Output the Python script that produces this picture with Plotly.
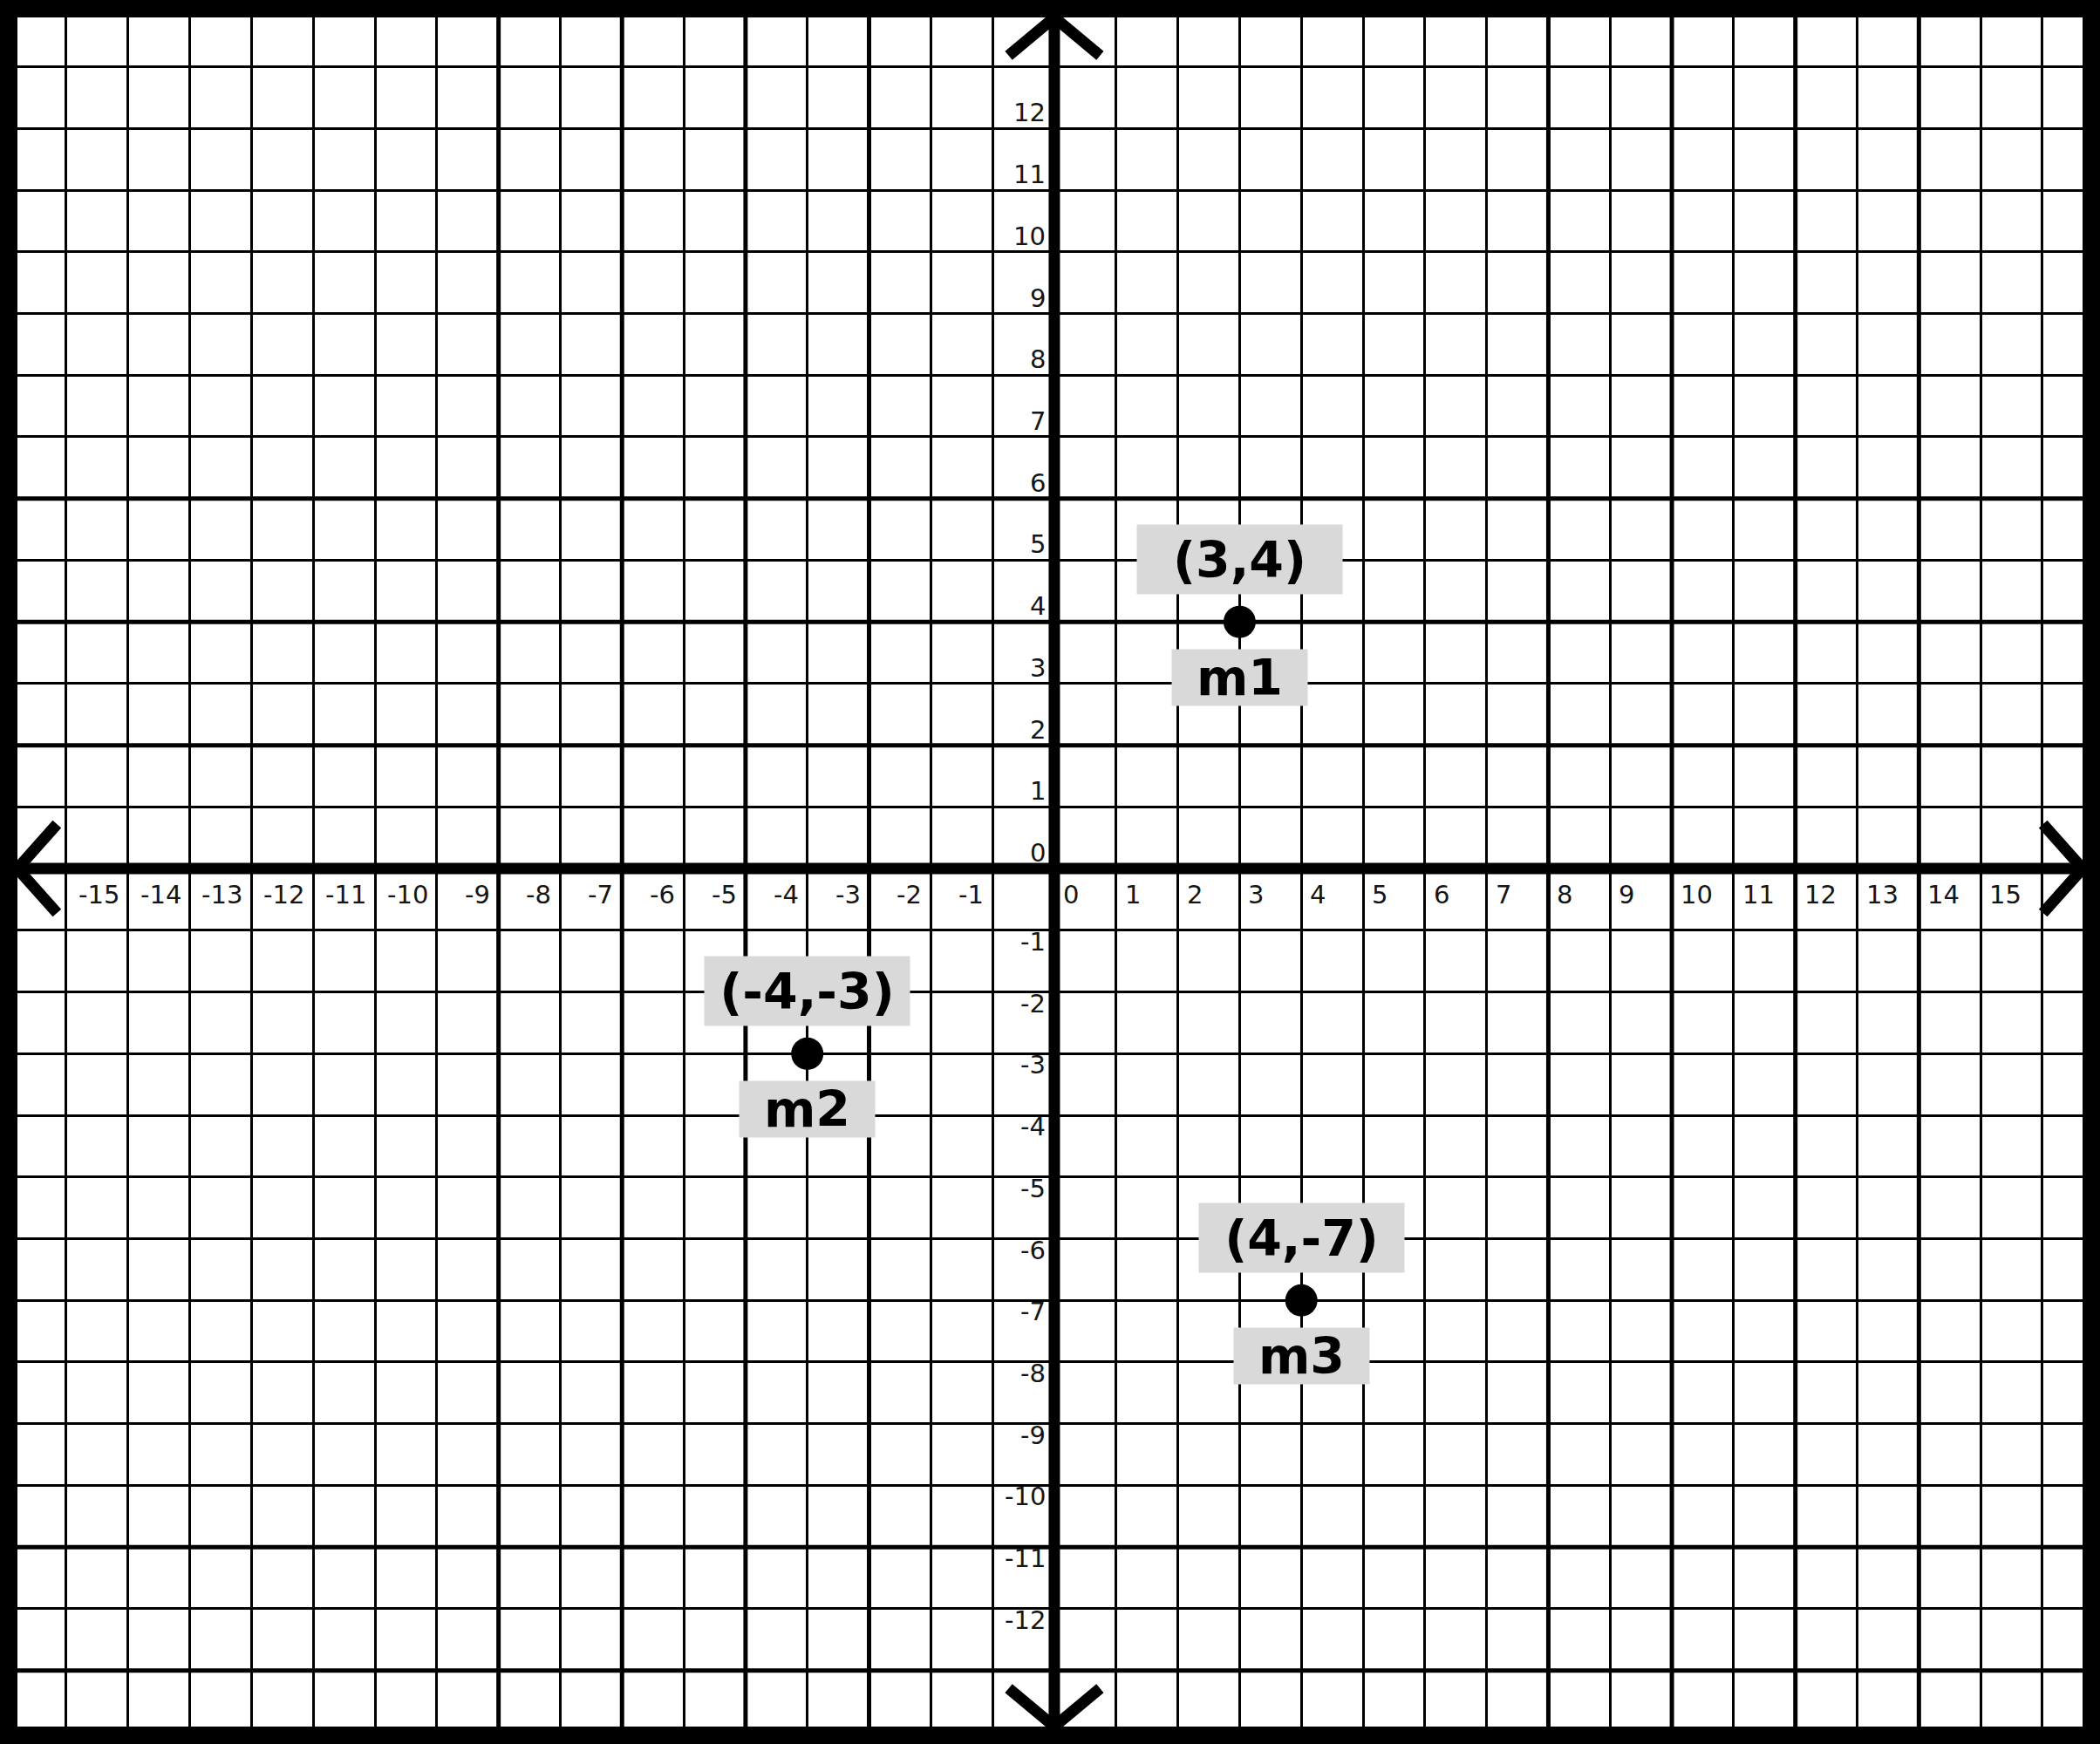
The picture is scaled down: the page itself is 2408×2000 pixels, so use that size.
import plotly.graph_objects as go

# ---------------- data ----------------
point_names = ["m1", "m2", "m3"]
point_x = [3, -4, 4]
point_y = [4, -3, -7]

x_tick_values = list(range(-15, 16))
y_tick_values = list(range(-12, 13))
x_tick_labels = [str(v) for v in x_tick_values]
y_tick_labels = [str(v) for v in y_tick_values]

# ---------------- style ----------------
X_RANGE = [-16.79, 16.65]
Y_RANGE = [-13.91, 13.80]
GRID_W = 2.5
THICK_W = 5
AXIS_W = 13
THICK_X = [-9, -7, -5, -3, 8, 10, 12, 14]
THICK_Y = [6, 4, 2, -11, -13]
TICK_FONT = dict(family="DejaVu Sans", size=29, color="#151515")
LABEL_FONT = dict(family="DejaVu Sans", size=57, color="black", weight="bold")
BOX_BG = "#d9d9d9"

fig = go.Figure()

fig.add_trace(go.Scatter(
    x=point_x, y=point_y, mode="markers",
    marker=dict(size=37, color="black", line=dict(width=0)),
    hoverinfo="skip", showlegend=False,
))

shapes = []
for xv in THICK_X:
    shapes.append(dict(type="line", xref="x", yref="paper", x0=xv, x1=xv, y0=0, y1=1,
                       line=dict(color="black", width=THICK_W), layer="between"))
for yv in THICK_Y:
    shapes.append(dict(type="line", xref="paper", yref="y", x0=0, x1=1, y0=yv, y1=yv,
                       line=dict(color="black", width=THICK_W), layer="between"))
shapes.append(dict(type="line", xref="x", yref="paper", x0=0, x1=0, y0=0, y1=1,
                   line=dict(color="black", width=AXIS_W), layer="above"))
shapes.append(dict(type="line", xref="paper", yref="y", x0=0, x1=1, y0=0, y1=0,
                   line=dict(color="black", width=AXIS_W), layer="above"))

ax_dx, ax_dy = 0.74, 0.62
bx_dx, bx_dy = 0.64, 0.72
xmin, xmax = X_RANGE
ymin, ymax = Y_RANGE
chevrons = [
    f"M {-ax_dx} {ymax - ax_dy} L 0 {ymax} L {ax_dx} {ymax - ax_dy}",
    f"M {-ax_dx} {ymin + ax_dy} L 0 {ymin} L {ax_dx} {ymin + ax_dy}",
    f"M {xmin + bx_dx} {bx_dy} L {xmin} 0 L {xmin + bx_dx} {-bx_dy}",
    f"M {xmax - bx_dx} {bx_dy} L {xmax} 0 L {xmax - bx_dx} {-bx_dy}",
]
for p in chevrons:
    shapes.append(dict(type="path", xref="x", yref="y", path=p,
                       line=dict(color="black", width=AXIS_W), layer="above"))

annotations = []
for v, t in zip(x_tick_values, x_tick_labels):
    neg = v < 0
    annotations.append(dict(
        x=v, y=0, xref="x", yref="y", text=t, showarrow=False,
        xanchor="right" if neg else "left", yanchor="middle",
        xshift=-8 if neg else 8, yshift=-30, font=TICK_FONT,
    ))
for v, t in zip(y_tick_values, y_tick_labels):
    annotations.append(dict(
        x=0, y=v, xref="x", yref="y", text=t, showarrow=False,
        xanchor="right", yanchor="middle",
        xshift=-8, yshift=18 if v >= 0 else -13, font=TICK_FONT,
    ))
for name, px, py in zip(point_names, point_x, point_y):
    annotations.append(dict(
        x=px, y=py, xref="x", yref="y", text=f"({px},{py})", showarrow=False,
        xanchor="center", yanchor="middle", yshift=72,
        width=235, height=79, borderpad=0, bgcolor=BOX_BG,
        font=LABEL_FONT,
    ))
    annotations.append(dict(
        x=px, y=py, xref="x", yref="y", text=name, showarrow=False,
        xanchor="center", yanchor="middle", yshift=-64,
        width=155, height=64, borderpad=0, bgcolor=BOX_BG,
        font=LABEL_FONT,
    ))

axis_common = dict(
    showgrid=True, gridcolor="black", gridwidth=GRID_W,
    dtick=1, tick0=0, zeroline=False, showticklabels=False,
    showline=False, ticks="", fixedrange=True,
)

fig.update_layout(
    width=2408, height=2000,
    margin=dict(l=20, r=20, t=20, b=20),
    paper_bgcolor="black", plot_bgcolor="white",
    xaxis=dict(range=X_RANGE, **axis_common),
    yaxis=dict(range=Y_RANGE, **axis_common),
    shapes=shapes, annotations=annotations,
    showlegend=False,
)

fig.write_html(
    "out.html",
    config={"displayModeBar": False},
    post_script="document.body.style.margin='0';document.body.style.background='black';",
)
